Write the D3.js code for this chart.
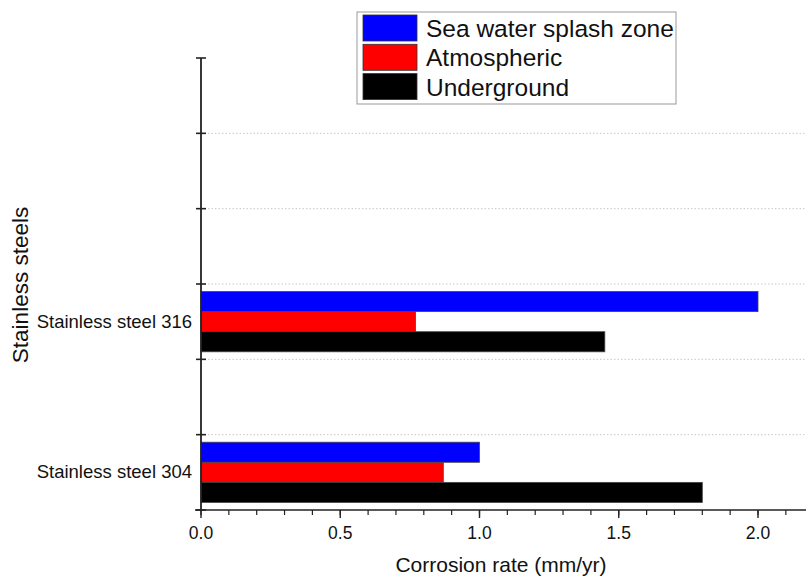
<!DOCTYPE html>
<html>
<head>
<meta charset="utf-8">
<style>
  body { margin: 0; background: #fff; }
  text { font-family: "Liberation Sans", Arial, sans-serif; fill: #111; }
  .grid line { stroke: #c8c8c8; stroke-dasharray: 1.5,2; }
  .axis path, .axis line { stroke: #222; }
</style>
<script src="https://d3js.org/d3.v7.min.js"></script>
</head>
<body>
<svg width="806" height="576"></svg>
<script>
  // data
  var categories = ["Stainless steel 304", "Stainless steel 316"];
  var catSlot = [0.5, 2.5];          // where each category sits on the 0..6 slot axis
  var series = ["Sea water splash zone", "Atmospheric", "Underground"];
  var colors = ["#0000ff", "#ff0000", "#000000"];
  var seaWater = [1.00, 2.00];
  var atmospheric = [0.87, 0.77];
  var underground = [1.80, 1.45];
  var xTicks = [0, 0.5, 1.0, 1.5, 2.0];

  var values = [seaWater, atmospheric, underground];

  var svg = d3.select("svg");
  var x0 = 201, yTop = 58, yBot = 510;

  var x = d3.scaleLinear().domain([0, 2.2]).range([x0, x0 + 2.2 * 278.5]);
  var y = d3.scaleLinear().domain([0, 6]).range([yBot, yTop]);
  var slotH = y(0) - y(1);
  var inner = d3.scaleBand().domain(series).range([-0.4 * slotH, 0.4 * slotH]);

  // dotted grid
  svg.append("g").attr("class", "grid")
    .selectAll("line").data([1, 2, 3, 4, 5]).enter()
    .append("line")
      .attr("x1", x0).attr("x2", 806)
      .attr("y1", function(d) { return y(d); })
      .attr("y2", function(d) { return y(d); });

  // bars
  var rows = [];
  categories.forEach(function(c, i) {
    series.forEach(function(s, j) {
      rows.push({cat: c, slot: catSlot[i], series: s, color: colors[j], value: values[j][i]});
    });
  });
  svg.append("g").selectAll("rect").data(rows).enter()
    .append("rect")
      .attr("x", x(0))
      .attr("y", function(d) { return y(d.slot) + inner(d.series); })
      .attr("width", function(d) { return x(d.value) - x(0); })
      .attr("height", inner.bandwidth())
      .attr("fill", function(d) { return d.color; })
      .attr("stroke", "#444")
      .attr("stroke-width", 0.8);

  // x axis
  var xAxis = svg.append("g").attr("class", "axis")
    .attr("transform", "translate(0," + yBot + ")");
  xAxis.append("line").attr("x1", x0 - 6).attr("x2", 806).attr("stroke-width", 1.6);
  xAxis.selectAll(".minor").data(d3.range(0, 23).map(function(i) { return i / 10; })).enter()
    .append("line").attr("class", "minor")
      .attr("x1", function(d) { return x(d); }).attr("x2", function(d) { return x(d); })
      .attr("y1", 0).attr("y2", 5).attr("stroke-width", 1.2);
  xAxis.selectAll(".major").data(xTicks).enter()
    .append("line").attr("class", "major")
      .attr("x1", function(d) { return x(d); }).attr("x2", function(d) { return x(d); })
      .attr("y1", 0).attr("y2", 8).attr("stroke-width", 1.4);
  xAxis.selectAll("text").data(xTicks).enter()
    .append("text")
      .attr("x", function(d) { return x(d); })
      .attr("y", 28.5)
      .attr("text-anchor", "middle")
      .attr("font-size", 17.5)
      .text(function(d) { return d3.format(".1f")(d); });

  // y axis
  var yAxis = svg.append("g").attr("class", "axis");
  yAxis.append("line").attr("x1", x0).attr("x2", x0).attr("y1", yTop).attr("y2", yBot).attr("stroke-width", 1.8);
  yAxis.selectAll(".tick").data(d3.range(0, 7)).enter()
    .append("line").attr("class", "tick")
      .attr("x1", x0 - 5).attr("x2", x0 + 5)
      .attr("y1", function(d) { return y(d); }).attr("y2", function(d) { return y(d); })
      .attr("stroke-width", 1.6);
  yAxis.selectAll("text").data(categories).enter()
    .append("text")
      .attr("x", 192)
      .attr("y", function(d, i) { return y(catSlot[i]); })
      .attr("dy", "0.33em")
      .attr("text-anchor", "end")
      .attr("font-size", 18.5)
      .text(function(d) { return d; });

  // titles
  svg.append("text")
    .attr("x", 501).attr("y", 572)
    .attr("text-anchor", "middle").attr("font-size", 21)
    .text("Corrosion rate (mm/yr)");
  svg.append("text")
    .attr("transform", "translate(28,285) rotate(-90)")
    .attr("text-anchor", "middle").attr("font-size", 22.5)
    .text("Stainless steels");

  // legend
  var lg = svg.append("g").attr("transform", "translate(357,12)");
  lg.append("rect").attr("width", 319).attr("height", 92)
    .attr("fill", "#fff").attr("stroke", "#999").attr("stroke-width", 1);
  var item = lg.selectAll(".item").data(series).enter()
    .append("g").attr("class", "item")
      .attr("transform", function(d, i) { return "translate(6," + (3 + i * 29.3) + ")"; });
  item.append("rect").attr("width", 54).attr("height", 26)
    .attr("fill", function(d, i) { return colors[i]; })
    .attr("stroke", "#333").attr("stroke-width", 0.8);
  item.append("text").attr("x", 63).attr("y", 22)
    .attr("font-size", 24.5)
    .text(function(d) { return d; });
</script>
</body>
</html>
